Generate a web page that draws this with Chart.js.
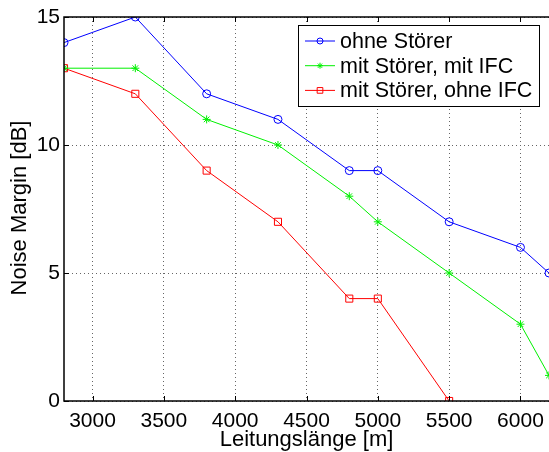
<!DOCTYPE html>
<html>
<head>
<meta charset="utf-8">
<script src="https://cdn.jsdelivr.net/npm/chart.js@4"></script>
<style>html,body{margin:0;padding:0;background:#fff}</style>
</head>
<body>
<canvas id="noiseChart" width="549" height="452"></canvas>
<script>
// Messwerte
const lengthsFull = [2800, 3300, 3800, 4300, 4800, 5000, 5500, 6000, 6200];
const lengthsRed = [2800, 3300, 3800, 4300, 4800, 5000, 5500];
const ohneStoerer = [14, 15, 12, 11, 9, 9, 7, 6, 5];
const mitIfc = [13, 13, 11, 10, 8, 7, 5, 3, 1];
const ohneIfc = [13, 12, 9, 7, 4, 4, 0];
const seriesLabels = ['ohne Störer', 'mit Störer, mit IFC', 'mit Störer, ohne IFC'];
const xTicks = [3000, 3500, 4000, 4500, 5000, 5500, 6000];
const yTicks = [0, 5, 10, 15];

const FONT = '"Liberation Sans", Arial, sans-serif';
const TICK_SIZE = 21;
const TEXT_SIZE = 22;

function toPoints(xs, ys) {
    return xs.map((x, i) => ({ x: x, y: ys[i] }));
}

function series(label, xs, ys, color, style, radius) {
    return {
        label: label,
        data: toPoints(xs, ys),
        borderColor: color,
        backgroundColor: 'rgba(0,0,0,0)',
        borderWidth: 1,
        pointStyle: style,
        pointRadius: radius,
        pointBorderWidth: 1,
        pointBorderColor: color,
        pointBackgroundColor: 'rgba(0,0,0,0)',
        tension: 0
    };
}

const matlabFrame = {
    id: 'matlabFrame',
    afterDraw(chart) {
        const ctx = chart.ctx;
        const a = chart.chartArea;
        const x = chart.scales.x;
        const y = chart.scales.y;
        ctx.save();

        // inward tick marks
        ctx.strokeStyle = '#000';
        ctx.lineWidth = 1;
        ctx.beginPath();
        xTicks.forEach(v => {
            const px = Math.round(x.getPixelForValue(v)) + 0.5;
            ctx.moveTo(px, a.bottom); ctx.lineTo(px, a.bottom - 5);
            ctx.moveTo(px, a.top); ctx.lineTo(px, a.top + 5);
        });
        yTicks.forEach(v => {
            const py = Math.round(y.getPixelForValue(v)) + 0.5;
            ctx.moveTo(a.left, py); ctx.lineTo(a.left + 5, py);
        });
        ctx.stroke();

        // box
        ctx.lineWidth = 1.5;
        ctx.strokeRect(a.left, a.top, a.right - a.left + 2, a.bottom - a.top);

        // axis titles
        ctx.fillStyle = '#000';
        ctx.font = TEXT_SIZE + 'px ' + FONT;
        ctx.textAlign = 'center';
        ctx.textBaseline = 'middle';
        ctx.fillText('Leitungslänge [m]', (a.left + a.right) / 2, 440);
        ctx.translate(20, (a.top + a.bottom) / 2 - 1);
        ctx.rotate(-Math.PI / 2);
        ctx.fillText('Noise Margin [dB]', 0, 0);
        ctx.setTransform(1, 0, 0, 1, 0, 0);

        // legend
        const bx = 298, by = 25, bw = 241, bh = 81;
        ctx.fillStyle = '#fff';
        ctx.fillRect(bx, by, bw, bh);
        ctx.lineWidth = 1;
        ctx.strokeStyle = '#000';
        ctx.strokeRect(bx + 0.5, by + 0.5, bw, bh);
        ctx.font = '21.5px ' + FONT;
        ctx.textAlign = 'left';
        chart.data.datasets.forEach((ds, i) => {
            const ry = by + 16 + i * 24.7;
            ctx.strokeStyle = ds.borderColor;
            ctx.lineWidth = 1;
            ctx.beginPath();
            ctx.moveTo(bx + 7, ry);
            ctx.lineTo(bx + 37, ry);
            ctx.stroke();
            ctx.fillStyle = 'rgba(0,0,0,0)';
            Chart.helpers.drawPoint(ctx, {
                pointStyle: ds.pointStyle,
                radius: ds.pointStyle === 'rect' ? 4 : 3,
                rotation: 0,
                borderWidth: 1
            }, bx + 22, ry);
            ctx.fillStyle = '#000';
            ctx.fillText(ds.label, bx + 42, ry + 1);
        });
        ctx.restore();
    }
};

const ctx = document.getElementById('noiseChart');

new Chart(ctx, {
    type: 'line',
    data: {
        datasets: [
            series(seriesLabels[0], lengthsFull, ohneStoerer, '#0000ff', 'circle', 4),
            series(seriesLabels[1], lengthsFull, mitIfc, '#00f000', 'star', 4),
            series(seriesLabels[2], lengthsRed, ohneIfc, '#ff0000', 'rect', 5)
        ]
    },
    options: {
        responsive: false,
        animation: false,
        events: [],
        layout: { autoPadding: false, padding: { left: 0, right: 0, top: 17, bottom: 0 } },
        plugins: {
            legend: { display: false },
            tooltip: { enabled: false }
        },
        scales: {
            x: {
                type: 'linear',
                min: 2800,
                max: 6200,
                afterBuildTicks: (scale) => { scale.ticks = xTicks.map(v => ({ value: v })); },
                afterFit: (scale) => { scale.height = 51; scale.paddingRight = 0; scale.paddingLeft = 0; },
                border: { display: false, dash: [1, 3] },
                grid: { color: '#666', drawTicks: false, lineWidth: 1 },
                ticks: {
                    color: '#000',
                    font: { family: FONT, size: TICK_SIZE },
                    padding: 8,
                    maxRotation: 0,
                    callback: (v) => String(v)
                }
            },
            y: {
                type: 'linear',
                min: 0,
                max: 15,
                afterBuildTicks: (scale) => { scale.ticks = yTicks.map(v => ({ value: v })); },
                afterFit: (scale) => { scale.width = 64; },
                border: { display: false, dash: [1, 3] },
                grid: { color: '#666', drawTicks: false, lineWidth: 1 },
                ticks: {
                    color: '#000',
                    font: { family: FONT, size: TICK_SIZE },
                    padding: 4,
                    callback: (v) => String(v)
                }
            }
        }
    },
    plugins: [matlabFrame]
});
</script>
</body>
</html>
